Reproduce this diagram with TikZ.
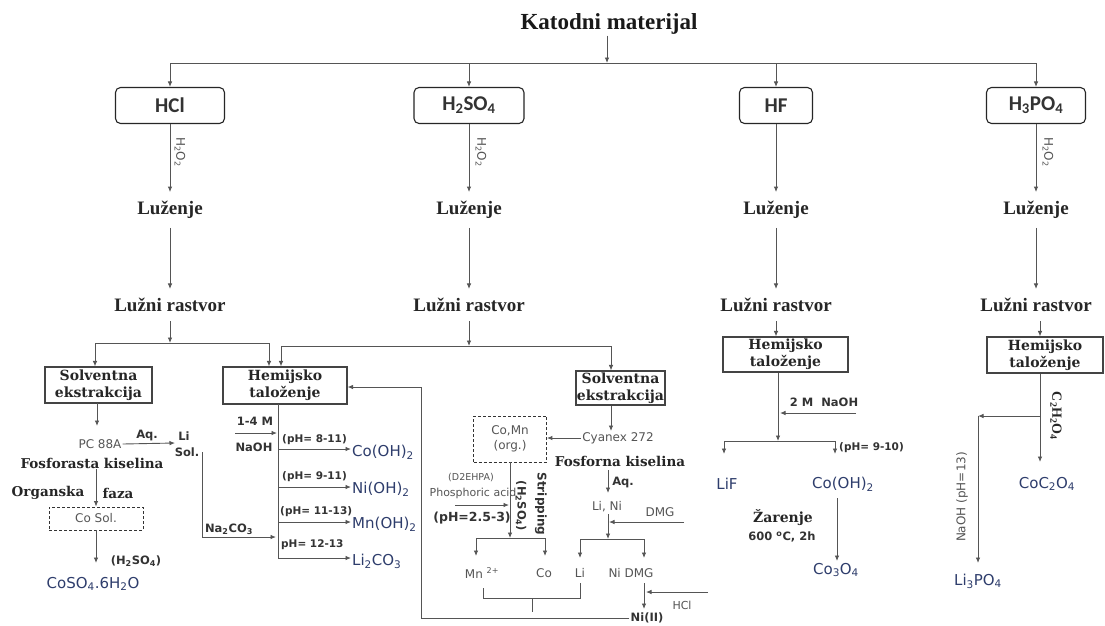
\documentclass[tikz,border=0pt]{standalone}
\usepackage{fontspec}
\setmainfont{Liberation Serif}
\newfontfamily\dser{DejaVu Serif}
\newfontfamily\dsans{DejaVu Sans}
\newfontfamily\carl{Carlito}
\usetikzlibrary{arrows.meta,calc}
\definecolor{lc}{HTML}{555555}
\definecolor{gc}{HTML}{555555}
\definecolor{dc}{HTML}{333333}
\definecolor{pc}{HTML}{2E3D6C}
\definecolor{bc}{HTML}{444444}
\newcommand{\fsz}[2]{\fontsize{#1}{#2}\selectfont}
\begin{document}
\begin{tikzpicture}[x=1pt,y=-1pt,
 ln/.style={draw=lc,line width=0.9pt},
 arr/.style={ln,-{Latex[length=5.5pt,width=4.5pt]}},
 acid/.style={draw=black!85,line width=1.1pt,rounded corners=5pt,minimum height=36pt,inner sep=0pt,font=\carl\bfseries\fsz{21}{24},text=black!80},
 pbox/.style={draw=bc,line width=1.1pt,align=center,inner sep=0pt,font=\dser\bfseries\fsz{14}{17},text=black!85},
 sbig/.style={font=\bfseries\fsz{19}{22},text=black!85,inner xsep=2pt,inner ysep=9pt},
 prod/.style={font=\dsans\fsz{15}{18},text=pc,inner sep=1pt},
 lab/.style={font=\dsans\fsz{12}{14},text=gc,inner sep=1pt},
 blab/.style={font=\dsans\bfseries\fsz{11.5}{13},text=dc,inner sep=1pt},
 phl/.style={font=\dsans\bfseries\fsz{10.5}{12},text=dc,inner sep=1pt},
 bser/.style={font=\dser\bfseries\fsz{13.5}{16},text=black!85,inner sep=1pt},
 oxl/.style={font=\dsans\fsz{12}{14},text=gc,inner sep=1pt,rotate=-90},
 dbox/.style={draw=dc,densely dashed,line width=0.8pt,align=center,inner sep=0pt,font=\dsans\fsz{12}{15},text=gc}
]
\fill[white] (0,0) rectangle (1105,625);
\useasboundingbox (0,0) rectangle (1105,625);

% ---- top
\node[font=\bfseries\fsz{23}{26},text=black!90,inner sep=1pt] (title) at (609,24) {Katodni materijal};
\coordinate (top) at (607,63);
\draw[arr] (title.south -| top) -- (top);

\node[acid,minimum width=109pt] (hcl) at (170,105.5) {HCl};
\node[acid,minimum width=110pt] (hso) at (469,105.5) {H\textsubscript{2}SO\textsubscript{4}};
\node[acid,minimum width=73pt] (hf) at (776,105.5) {HF};
\node[acid,minimum width=99pt] (hpo) at (1036,105.5) {H\textsubscript{3}PO\textsubscript{4}};

\draw[ln] (hcl |- top) -- (hpo |- top);
\foreach \n in {hcl,hso,hf,hpo} \draw[arr] (\n |- top) -- (\n);

% ---- leaching
\node[sbig] (l1) at (170,210) {Luženje};
\node[sbig] (l2) at (469,210) {Luženje};
\node[sbig] (l3) at (776,210) {Luženje};
\node[sbig] (l4) at (1036,210) {Luženje};
\node[sbig] (r1) at (170,305) {Lužni rastvor};
\node[sbig] (r2) at (469,305) {Lužni rastvor};
\node[sbig] (r3) at (776,305) {Lužni rastvor};
\node[sbig] (r4) at (1036,305) {Lužni rastvor};
\draw[arr] (hcl) -- (l1);
\draw[arr] (hso) -- (l2);
\draw[arr] (hf) -- (l3);
\draw[arr] (hpo) -- (l4);
\draw[arr] (l1) -- (r1);
\draw[arr] (l2) -- (r2);
\draw[arr] (l3) -- (r3);
\draw[arr] (l4) -- (r4);
\node[oxl] (o1) at (180,152) {H\textsubscript{2}O\textsubscript{2}};
\node[oxl] (o2) at (481,152) {H\textsubscript{2}O\textsubscript{2}};
\node[oxl] (o4) at (1048,152) {H\textsubscript{2}O\textsubscript{2}};

% ---- process boxes
\node[pbox,minimum width=107pt,minimum height=36pt] (solv1) at (98.5,385) {Solventna\\ekstrakcija};
\node[pbox,minimum width=124pt,minimum height=37pt] (hem1) at (285,385.5) {Hemijsko\\taloženje};
\node[pbox,minimum width=89pt,minimum height=34pt] (solv2) at (620.5,388) {Solventna\\ekstrakcija};
\node[pbox,minimum width=125pt,minimum height=35pt] (hem3) at (785.5,354.5) {Hemijsko\\taloženje};
\node[pbox,minimum width=116pt,minimum height=36pt] (hem4) at (1045,355) {Hemijsko\\taloženje};

% branches
\coordinate (b1) at (170,343);
\coordinate (b1a) at (95,343);
\coordinate (b1b) at (269,343);
\draw[arr] (r1) -- (b1);
\draw[ln] (b1a) -- (b1b);
\draw[arr] (b1a) -- (b1a |- solv1.north);
\draw[arr] (b1b) -- (b1b |- hem1.north);
\coordinate (b2) at (469,346);
\coordinate (b2a) at (281,346);
\coordinate (b2b) at (611,346);
\draw[arr] (r2) -- (b2);
\draw[ln] (b2a) -- (b2b);
\draw[arr] (b2a) -- (b2a |- hem1.north);
\draw[arr] (b2b) -- (b2b |- solv2.north);
\draw[arr] (r3) -- (r3 |- hem3.north);
\coordinate (c4) at (1040,300);
\draw[arr] (r4.south -| c4) -- (c4 |- hem4.north);

% ---- HCl: solvent extraction
\node[lab] (pc) at (100,444) {PC 88A};
\coordinate (pcs) at (97,403);
\coordinate (pct) at (97,426);
\draw[arr] (pcs) -- (pct);
\node[blab] (lis) at (184,436) {Li};
\node[blab] (sol) at (187,452) {Sol.};
\coordinate (aqe) at (175,443);
\draw[arr] (pc.east) -- (aqe);
\node[blab] (aq1) at (147,435) {Aq.};
\node[bser] (fos) at (92,463) {Fosforasta kiselina};
\node[bser] (org) at (48,493) {Organska};
\node[bser] (faz) at (118,493) {faza};
\node[dbox,minimum width=94pt,minimum height=23pt] (cosol) at (96,518.5) {Co Sol.};
\draw[arr] (fos.south -| cosol) -- (cosol);
\node[prod] (coso4) at (93,584) {CoSO\textsubscript{4}.6H\textsubscript{2}O};
\coordinate (cst) at (96,563);
\draw[arr] (cosol) -- (cst);
\node[blab] (hs1) at (136,561) {(H\textsubscript{2}SO\textsubscript{4})};
\coordinate (na) at (276,537);
\coordinate (solx) at (202,452);
\draw[arr] (solx) |- (na);
\node[blab] (naco) at (229,529) {Na\textsubscript{2}CO\textsubscript{3}};

% ---- Hemijsko taloženje (HCl/H2SO4)
\coordinate (h1t) at (278,404);
\coordinate (h1b) at (278,558);
\draw[ln] (h1t) -- (h1b);
\coordinate (na1s) at (235,433);
\coordinate (na1) at (277,433);
\draw[arr] (na1s) -- (na1);
\node[blab] (m14) at (255,421) {1-4 M};
\node[blab] (naoh1) at (254,447) {NaOH};
\coordinate (p1) at (278,449);
\coordinate (p2) at (278,487);
\coordinate (p3) at (278,522);
\coordinate (p4) at (278,558);
\node[prod,anchor=west] (co1) at (351,452) {Co(OH)\textsubscript{2}};
\node[prod,anchor=west] (ni1) at (351,489) {Ni(OH)\textsubscript{2}};
\node[prod,anchor=west] (mn1) at (351,524) {Mn(OH)\textsubscript{2}};
\node[prod,anchor=west] (li1) at (351,561) {Li\textsubscript{2}CO\textsubscript{3}};
\draw[arr] (p1) -- (p1 -| co1.west);
\draw[arr] (p2) -- (p2 -| ni1.west);
\draw[arr] (p3) -- (p3 -| mn1.west);
\draw[arr] (p4) -- (p4 -| li1.west);
\node[phl,anchor=west] (ph1) at (281,440) {(pH= 8-11)};
\node[phl,anchor=west] (ph2) at (281,477) {(pH= 9-11)};
\node[phl,anchor=west] (ph3) at (279,512) {(pH= 11-13)};
\node[phl,anchor=west] (ph4) at (280,545) {pH= 12-13};

% ---- H2SO4: solvent extraction
\node[lab] (cy) at (618,438) {Cyanex 272};
\coordinate (cyt) at (611,431);
\draw[arr] (solv2.south -| b2b) -- (cyt);
\node[dbox,minimum width=73pt,minimum height=46pt] (comn) at (510,439) {Co,Mn\\(org.)};
\draw[arr] (cy.west) -- (cy.west -| comn.east);
\node[bser] (fosf) at (620,461) {Fosforna kiselina};
\coordinate (aq2s) at (608,470);
\coordinate (aq2t) at (608,493);
\draw[arr] (aq2s) -- (aq2t);
\node[blab] (aq2) at (623,482) {Aq.};
\node[lab] (lini) at (607,507) {Li, Ni};
\coordinate (dm) at (684,522);
\coordinate (dmt) at (609,522);
\draw[arr] (dm) -- (dmt);
\node[lab] (dmg) at (660,512) {DMG};
\coordinate (ln1) at (608,514);
\coordinate (b3) at (608,539);
\draw[arr] (ln1) -- (b3);
\coordinate (b3a) at (580,539);
\coordinate (b3b) at (644,539);
\draw[ln] (b3a) -- (b3b);
\coordinate (b3at) at (580,558);
\coordinate (b3bt) at (644,558);
\draw[arr] (b3a) -- (b3at);
\draw[arr] (b3b) -- (b3bt);
\node[lab] (li2) at (580,573) {Li};
\node[lab] (nidmg) at (631,573) {Ni DMG};
\coordinate (nd1) at (644,583);
\coordinate (nd2) at (644,609);
\draw[arr] (nd1) -- (nd2);
\coordinate (hc1) at (708,592);
\coordinate (hc2) at (646,592);
\draw[arr] (hc1) -- (hc2);
\node[lab,font=\dsans\fsz{11}{13}] (hcl2) at (682,605) {HCl};
\node[blab] (ni2) at (647,618) {Ni(II)};
\coordinate (lp2) at (421,387);
\draw[arr] (ni2.west) -| (lp2) -- (lp2 -| hem1.east);

% stripping
\coordinate (b4) at (510,538);
\draw[arr] (comn) -- (b4);
\coordinate (b4a) at (476,538);
\coordinate (b4b) at (545,538);
\draw[ln] (b4a) -- (b4b);
\coordinate (b4at) at (476,556);
\coordinate (b4bt) at (545,556);
\draw[arr] (b4a) -- (b4at);
\draw[arr] (b4b) -- (b4bt);
\node[lab] (mn2) at (482,573) {Mn \textsuperscript{2+}};
\node[lab] (co2) at (544,573) {Co};
\node[lab,font=\dsans\fsz{9.5}{11}] (d2e) at (471,478) {(D2EHPA)};
\node[lab,font=\dsans\fsz{11}{13}] (pha) at (473,493) {Phosphoric acid};
\coordinate (pa1) at (455,505);
\coordinate (pa2) at (509,505);
\draw[arr] (pa1) -- (pa2);
\node[blab,font=\dsans\bfseries\fsz{12.5}{14}] (ph5) at (472,518) {(pH=2.5-3)};
\node[blab,rotate=-90] (hs2) at (521,506) {(H\textsubscript{2}SO\textsubscript{4})};
\node[blab,rotate=-90,font=\dsans\bfseries\fsz{12}{14}] (strp) at (541,504) {Stripping};
% bracket
\coordinate (k1) at (483,588);
\coordinate (k2) at (483,598);
\coordinate (k3) at (580,598);
\coordinate (k4) at (580,583);
\draw[ln] (k1) -- (k2) -- (k3) -- (k4);
\coordinate (k5) at (532,598);
\coordinate (k6) at (532,612);
\draw[ln] (k5) -- (k6);

% ---- HF
\coordinate (b5) at (778,441);
\draw[arr] (hem3.south -| b5) -- (b5);
\coordinate (nf1) at (856,413);
\coordinate (nf2) at (780,413);
\draw[arr] (nf1) -- (nf2);
\node[blab] (naoh2) at (824,402) {2 M\ \ NaOH};
\coordinate (b5a) at (724,441);
\coordinate (b5b) at (835,441);
\draw[ln] (b5a) -- (b5b);
\coordinate (b5at) at (724,454);
\coordinate (b5bt) at (835,454);
\draw[arr] (b5a) -- (b5at);
\draw[arr] (b5b) -- (b5bt);
\node[phl,anchor=west] (ph6) at (838,448) {(pH= 9-10)};
\node[prod] (lif) at (727,484) {LiF};
\node[prod] (co3) at (843,484) {Co(OH)\textsubscript{2}};
\coordinate (z1) at (837,498);
\coordinate (z2) at (837,561);
\draw[arr] (z1) -- (z2);
\node[prod] (co3o4) at (836,570) {Co\textsubscript{3}O\textsubscript{4}};
\node[bser,font=\dser\bfseries\fsz{14}{16}] (zar) at (783,518) {Žarenje};
\node[blab] (temp) at (782,537) {600 \textsuperscript{o}C, 2h};

% ---- H3PO4
\coordinate (b6) at (1040,462);
\draw[arr] (hem4.south -| b6) -- (b6);
\node[font=\bfseries\fsz{14}{16},text=black!85,rotate=-90,inner sep=1pt] (c2h) at (1056,416) {C\textsubscript{2}H\textsubscript{2}O\textsubscript{4}};
\coordinate (b7) at (1040,416);
\coordinate (b7b) at (978,416);
\draw[arr] (b7) -- (b7b);
\coordinate (b7c) at (978,563);
\draw[arr] (b7b) -- (b7c);
\node[lab,rotate=90] (naoh3) at (962,497) {NaOH (pH=13)};
\node[prod] (coc2) at (1047,484) {CoC\textsubscript{2}O\textsubscript{4}};
\node[prod] (li3) at (978,581) {Li\textsubscript{3}PO\textsubscript{4}};
\end{tikzpicture}
\end{document}
